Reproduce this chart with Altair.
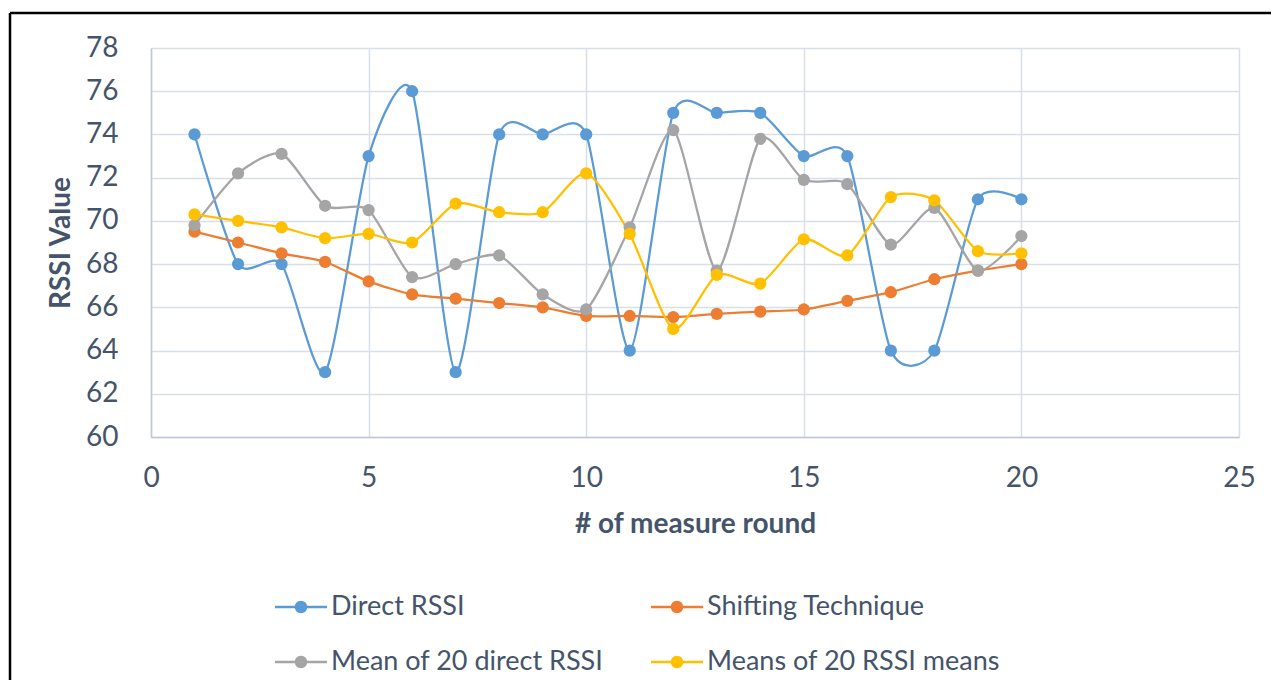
import altair as alt
import pandas as pd

rounds = list(range(1, 21))
series_names = ["Direct RSSI", "Shifting Technique", "Mean of 20 direct RSSI", "Means of 20 RSSI means"]
direct_rssi = [74, 68, 68, 63, 73, 76, 63, 74, 74, 74, 64, 75, 75, 75, 73, 73, 64, 64, 71, 71]
shifting = [69.5, 69.0, 68.5, 68.1, 67.2, 66.6, 66.4, 66.2, 66.0, 65.6, 65.6, 65.55, 65.7, 65.8, 65.9, 66.3, 66.7, 67.3, 67.7, 68.0]
mean_direct = [69.8, 72.2, 73.1, 70.7, 70.5, 67.4, 68.0, 68.4, 66.6, 65.9, 69.7, 74.2, 67.7, 73.8, 71.9, 71.7, 68.9, 70.6, 67.7, 69.3]
means_means = [70.3, 70.0, 69.7, 69.2, 69.4, 69.0, 70.8, 70.4, 70.4, 72.2, 69.4, 65.0, 67.5, 67.1, 69.15, 68.4, 71.1, 70.95, 68.6, 68.5]
colors = ["#5B9BD5", "#ED7D31", "#A5A5A5", "#FFC000"]
x_ticks = [0, 5, 10, 15, 20, 25]
y_ticks = [60, 62, 64, 66, 68, 70, 72, 74, 76, 78]

rows = []
for name, vals in zip(series_names, [direct_rssi, shifting, mean_direct, means_means]):
    for r, v in zip(rounds, vals):
        rows.append({"series": name, "round": r, "value": v, "order": series_names.index(name)})
df = pd.DataFrame(rows)

TXT = "#44546A"
FONT = "Lato"

x_enc = alt.X("round:Q", title="# of measure round",
              scale=alt.Scale(domain=[0, 25], nice=False),
              axis=alt.Axis(values=x_ticks, grid=True, ticks=False, labelPadding=27,
                            labelFlush=False, titlePadding=18))
y_enc = alt.Y("value:Q", title="RSSI Value",
              scale=alt.Scale(domain=[60, 78], nice=False, zero=False),
              axis=alt.Axis(values=y_ticks, grid=True, ticks=False, labelPadding=33,
                            labelFlush=False, titlePadding=10))
color_scale = alt.Scale(domain=series_names, range=colors)

base = alt.Chart(df)

lines = base.mark_line(interpolate="cardinal", tension=0.3, strokeWidth=2.25).encode(
    x=x_enc, y=y_enc,
    color=alt.Color("series:N", scale=color_scale, legend=None),
    detail="series:N",
)

legend_path = ("M-1,-0.045H1V0.045H-1Z "
               "M0.24,0A0.24,0.24 0 1,1 -0.24,0A0.24,0.24 0 1,1 0.24,0Z")

points = base.mark_point(filled=True, size=150, opacity=1).encode(
    x=x_enc, y=y_enc,
    color=alt.Color("series:N", scale=color_scale,
                    legend=alt.Legend(title=None, orient="none", legendX=124, legendY=533,
                                      direction="horizontal",
                                      columns=2, columnPadding=47, rowPadding=16,
                                      symbolType=legend_path, symbolSize=2704,
                                      symbolStrokeWidth=0, symbolOpacity=1,
                                      labelFontSize=27, labelColor=TXT, labelFont=FONT,
                                      labelOffset=4, padding=0, labelLimit=400)),
    order="order:Q",
)

frame_data = pd.DataFrame({"k": [0]})
frame_left = alt.Chart(frame_data).mark_rule(color="black", strokeWidth=2.5).encode(
    x=alt.value(-141), y=alt.value(-35), y2=alt.value(632))
frame_top = alt.Chart(frame_data).mark_rule(color="black", strokeWidth=2.5).encode(
    x=alt.value(-141), x2=alt.value(1120), y=alt.value(-35))

chart = alt.layer(frame_left, frame_top, lines, points).resolve_legend(
    color="independent"
).properties(
    width=1088, height=389,
    padding={"left": 0, "top": 3, "right": 0, "bottom": 0},
).configure(font=FONT).configure_view(stroke=None).configure_axis(
    labelFontSize=28, labelColor=TXT, labelFont=FONT,
    titleFontSize=28, titleColor=TXT, titleFont=FONT, titleFontWeight="bold",
    gridColor="#D9DFE8", gridWidth=1.5,
    domainColor="#BFC7D5", domainWidth=1.5,
)

chart.save("out.html", embed_options={"renderer": "svg", "actions": False})
